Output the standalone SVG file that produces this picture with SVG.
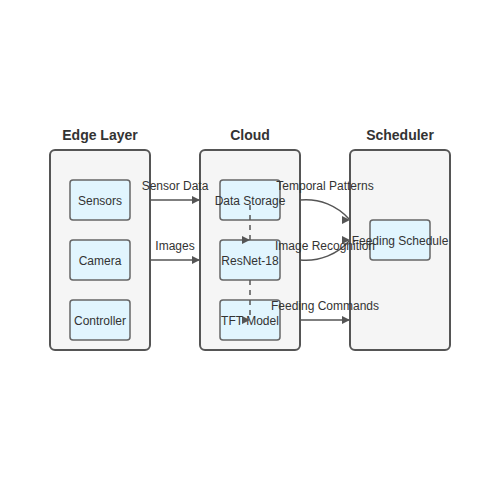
<svg xmlns="http://www.w3.org/2000/svg" width="500" height="500" viewBox="0 0 500 500">
<style>
.container{fill:#f5f5f5;stroke:#555;stroke-width:2}
.node{fill:#e1f5fe;stroke:#666;stroke-width:1.5}
.title{font-family:"Liberation Sans",Arial,sans-serif;font-size:14px;font-weight:bold;fill:#333;text-anchor:middle}
.label{font-family:"Liberation Sans",Arial,sans-serif;font-size:12px;fill:#333;text-anchor:middle}
.edge{fill:none;stroke:#555;stroke-width:1.5}
.dashed{stroke-dasharray:5,5}
</style>
<defs>
<marker id="arrow" markerUnits="userSpaceOnUse" markerWidth="8" markerHeight="8" viewBox="0 0 10 10" refX="10" refY="5">
<path d="M0,0 L10,5 L0,10 z" fill="#555"/>
</marker>
</defs>
<rect width="500" height="500" fill="#fff"/>
<g id="edge-layer">
<text class="title" x="100" y="140">Edge Layer</text>
<rect class="container" x="50" y="150" width="100" height="200" rx="5"/>
</g>
<g id="cloud">
<text class="title" x="250" y="140">Cloud</text>
<rect class="container" x="200" y="150" width="100" height="200" rx="5"/>
</g>
<g id="scheduler">
<text class="title" x="400" y="140">Scheduler</text>
<rect class="container" x="350" y="150" width="100" height="200" rx="5"/>
</g>
<g id="sensors"><rect class="node" x="70" y="180" width="60" height="40" rx="3"/><text class="label" x="100" y="205">Sensors</text></g>
<g id="camera"><rect class="node" x="70" y="240" width="60" height="40" rx="3"/><text class="label" x="100" y="265">Camera</text></g>
<g id="controller"><rect class="node" x="70" y="300" width="60" height="40" rx="3"/><text class="label" x="100" y="325">Controller</text></g>
<g id="data-storage"><rect class="node" x="220" y="180" width="60" height="40" rx="3"/><text class="label" x="250" y="205">Data Storage</text></g>
<g id="resnet"><rect class="node" x="220" y="240" width="60" height="40" rx="3"/><text class="label" x="250" y="265">ResNet-18</text></g>
<g id="tft"><rect class="node" x="220" y="300" width="60" height="40" rx="3"/><text class="label" x="250" y="325">TFT Model</text></g>
<g id="feeding-schedule"><rect class="node" x="370" y="220" width="60" height="40" rx="3"/><text class="label" x="400" y="245">Feeding Schedule</text></g>
<g id="connectors">
<path class="edge" d="M150,200 L200,200" marker-end="url(#arrow)"/>
<text class="label" x="175" y="190">Sensor Data</text>
<path class="edge" d="M150,260 L200,260" marker-end="url(#arrow)"/>
<text class="label" x="175" y="250">Images</text>
<path class="edge dashed" d="M250,205 L250,240" marker-end="url(#arrow)"/>
<path class="edge dashed" d="M250,280 L250,320" marker-end="url(#arrow)"/>
<path class="edge" d="M300,200 A58,58 0 0 1 350,220" marker-end="url(#arrow)"/>
<text class="label" x="325" y="190">Temporal Patterns</text>
<path class="edge" d="M300,260 A58,58 0 0 0 350,240" marker-end="url(#arrow)"/>
<text class="label" x="325" y="250">Image Recognition</text>
<path class="edge" d="M300,320 L350,320" marker-end="url(#arrow)"/>
<text class="label" x="325" y="310">Feeding Commands</text>
</g>
</svg>
